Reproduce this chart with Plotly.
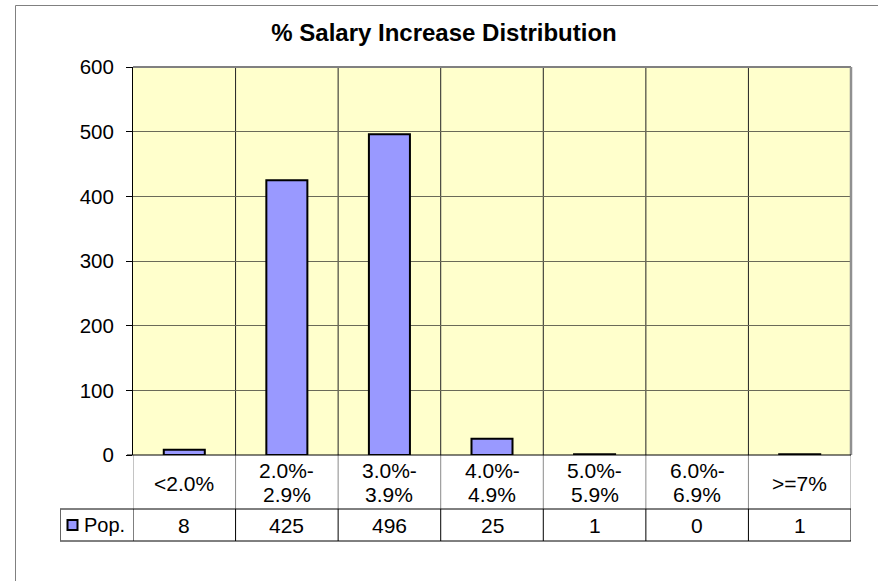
import plotly.graph_objects as go

# ---- data ----
categories = ["<2.0%", "2.0%-2.9%", "3.0%-3.9%", "4.0%-4.9%", "5.0%-5.9%", "6.0%-6.9%", ">=7%"]
pop_values = [8, 425, 496, 25, 1, 0, 1]
series_name = "Pop."
title_text = "% Salary Increase Distribution"
y_ticks = [0, 100, 200, 300, 400, 500, 600]

# ---- geometry (pixels) ----
W, H = 878, 581
L, R, T, B = 133, 851, 67, 455
PW, PH = R - L, B - T

def px_x(px):
    return (px - L) / PW

def px_y(py):
    return (B - py) / PH

FONT = "Liberation Sans, Arial, sans-serif"
BAR_COLOR = "#9999ff"
TXT = 21

fig = go.Figure()
fig.add_trace(go.Bar(
    x=list(range(len(categories))), y=pop_values, name=series_name,
    marker=dict(color=BAR_COLOR,
                line=dict(color="black", width=[2 if v > 0 else 0 for v in pop_values])),
    width=0.4, showlegend=False, hoverinfo="x+y",
))

shapes = []
annotations = []

# vertical gridlines at category boundaries inside plot
for i in range(1, len(categories)):
    shapes.append(dict(type="line", xref="x", yref="paper", x0=i - 0.5, x1=i - 0.5, y0=0, y1=1,
                       line=dict(color="#222222", width=1), layer="below"))

# plot area border: top and right gray
shapes.append(dict(type="line", xref="paper", yref="paper", x0=0, x1=1, y0=1, y1=1,
                   line=dict(color="#808080", width=2)))
shapes.append(dict(type="line", xref="paper", yref="paper", x0=1, x1=1, y0=0, y1=1,
                   line=dict(color="#909090", width=2.5)))

# outer chart border
shapes.append(dict(type="rect", xref="paper", yref="paper", x0=px_x(15.5), x1=px_x(W + 20),
                    y0=px_y(H + 20), y1=px_y(5.5), line=dict(color="#808080", width=1)))

# ---- data table ----
ROW1_B = 509
ROW2_B = 541
n = len(categories)
for i in range(n + 1):
    shapes.append(dict(type="line", xref="x", yref="paper", x0=i - 0.5, x1=i - 0.5,
                       y0=px_y(ROW1_B), y1=px_y(B), line=dict(color="#8a8a8a", width=1)))
for i in range(n + 1):
    shapes.append(dict(type="line", xref="x", yref="paper", x0=i - 0.5, x1=i - 0.5,
                       y0=px_y(ROW2_B), y1=px_y(ROW1_B), line=dict(color="black", width=1)))
shapes.append(dict(type="line", xref="paper", yref="paper", x0=px_x(60), x1=1,
                   y0=px_y(ROW1_B), y1=px_y(ROW1_B), line=dict(color="black", width=1)))
shapes.append(dict(type="line", xref="paper", yref="paper", x0=px_x(60), x1=1,
                   y0=px_y(ROW2_B), y1=px_y(ROW2_B), line=dict(color="black", width=1)))
shapes.append(dict(type="line", xref="paper", yref="paper", x0=px_x(60.5), x1=px_x(60.5),
                   y0=px_y(ROW2_B), y1=px_y(ROW1_B), line=dict(color="#666666", width=1)))
shapes.append(dict(type="line", xref="paper", yref="paper", x0=px_x(127), x1=1,
                   y0=0, y1=0, line=dict(color="black", width=1)))
# legend key
shapes.append(dict(type="rect", xref="paper", yref="paper", x0=px_x(67.5), x1=px_x(77.5),
                   y0=px_y(530), y1=px_y(520), fillcolor=BAR_COLOR, line=dict(color="black", width=2)))
annotations.append(dict(xref="paper", yref="paper", x=px_x(82), y=px_y(525), text=series_name,
                        showarrow=False, xanchor="left", yanchor="middle",
                        font=dict(family=FONT, size=20, color="black")))

for i, (cat, v) in enumerate(zip(categories, pop_values)):
    if "%-" in cat:
        a, b = cat.split("%-")
        lines = [(a + "%-", 470.5), (b, 494)]
    else:
        lines = [(cat, 483)]
    for txt, yy in lines:
        annotations.append(dict(xref="x", yref="paper", x=i, y=px_y(yy), text=txt, showarrow=False,
                                xanchor="center", yanchor="middle",
                                font=dict(family=FONT, size=TXT, color="black")))
    annotations.append(dict(xref="x", yref="paper", x=i, y=px_y(525), text=str(v), showarrow=False,
                            xanchor="center", yanchor="middle",
                            font=dict(family=FONT, size=TXT, color="black")))

fig.update_layout(
    width=W, height=H, autosize=False,
    margin=dict(l=L, r=W - R, t=T, b=H - B, pad=0),
    paper_bgcolor="white", plot_bgcolor="#ffffcc",
    title=dict(text="<b>" + title_text + "</b>", x=444 / W, xanchor="center", xref="container",
               y=1 - 33 / H, yanchor="middle", yref="container",
               font=dict(family=FONT, size=24, color="black")),
    xaxis=dict(range=[-0.5, n - 0.5], showticklabels=False, showgrid=False, zeroline=False,
               showline=False, ticks="", fixedrange=True),
    yaxis=dict(range=[0, 600], tickvals=y_ticks, ticktext=[str(t) for t in y_ticks],
               showgrid=True, gridcolor="#6a6a58", gridwidth=1.2, zeroline=False,
               showline=True, linecolor="black", linewidth=1, ticks="outside", ticklen=6,
               tickcolor="black", ticklabelstandoff=8,
               tickfont=dict(family=FONT, size=20.5, color="black"), fixedrange=True),
    bargap=0.6,
    shapes=shapes, annotations=annotations,
    showlegend=False,
)

fig.write_html("out.html", config={"displayModeBar": False},
               post_script="document.body.style.margin='0';document.body.style.overflow='hidden';")
